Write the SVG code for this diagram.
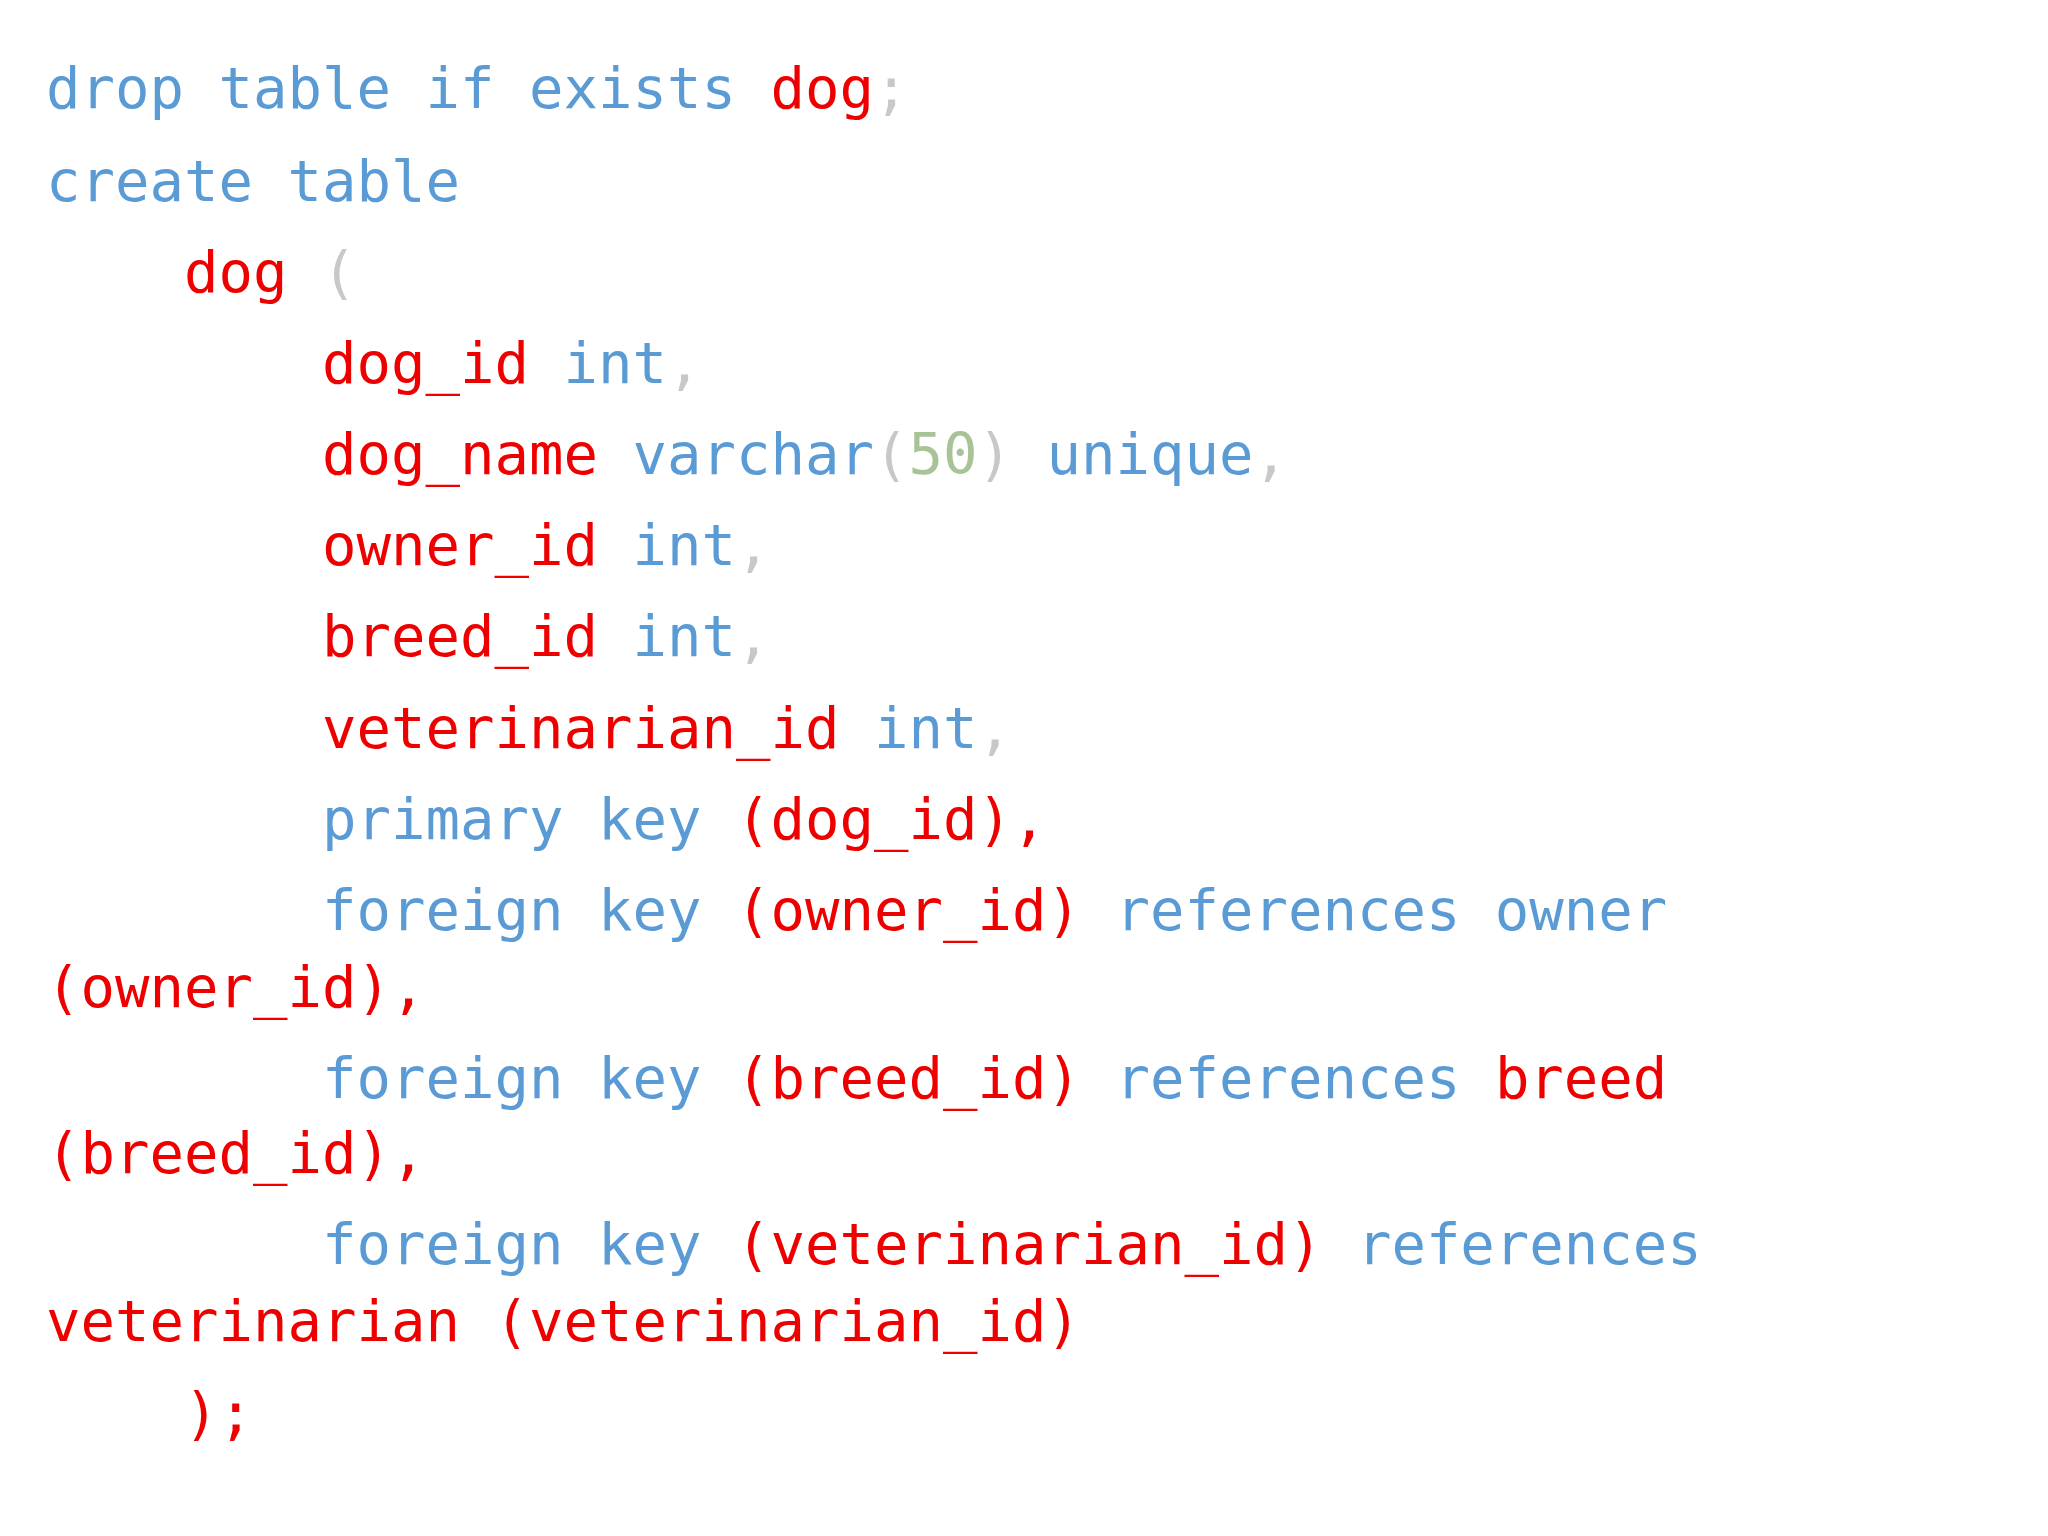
<svg xmlns="http://www.w3.org/2000/svg" width="2048" height="1536" viewBox="0 0 2048 1536">
<style>
text{font-family:"DejaVu Sans Mono","Liberation Mono",monospace;font-size:57.3px;white-space:pre}
.k{fill:#5B9BD5}.r{fill:#EE0000}.g{fill:#C8C8C8}.n{fill:#A8C496}
</style>
<rect width="2048" height="1536" fill="#fff"/>
<g id="code" xml:space="preserve" transform="translate(0,-4)">
<text x="46" y="112"><tspan class="k">drop table if exists </tspan><tspan class="r">dog</tspan><tspan class="g">;</tspan></text>
<text x="46" y="205"><tspan class="k">create table</tspan></text>
<text x="184" y="296"><tspan class="r">dog</tspan><tspan class="g"> (</tspan></text>
<text x="322" y="387"><tspan class="r">dog_id</tspan><tspan class="k"> int</tspan><tspan class="g">,</tspan></text>
<text x="322" y="478"><tspan class="r">dog_name</tspan><tspan class="k"> varchar</tspan><tspan class="g">(</tspan><tspan class="n">50</tspan><tspan class="g">)</tspan><tspan class="k"> unique</tspan><tspan class="g">,</tspan></text>
<text x="322" y="569"><tspan class="r">owner_id</tspan><tspan class="k"> int</tspan><tspan class="g">,</tspan></text>
<text x="322" y="660"><tspan class="r">breed_id</tspan><tspan class="k"> int</tspan><tspan class="g">,</tspan></text>
<text x="322" y="752"><tspan class="r">veterinarian_id</tspan><tspan class="k"> int</tspan><tspan class="g">,</tspan></text>
<text x="322" y="843"><tspan class="k">primary key </tspan><tspan class="r">(dog_id),</tspan></text>
<text x="322" y="934"><tspan class="k">foreign key </tspan><tspan class="r">(owner_id)</tspan><tspan class="k"> references owner</tspan></text>
<text x="46" y="1011"><tspan class="r">(owner_id),</tspan></text>
<text x="322" y="1102"><tspan class="k">foreign key </tspan><tspan class="r">(breed_id)</tspan><tspan class="k"> references </tspan><tspan class="r">breed</tspan></text>
<text x="46" y="1177"><tspan class="r">(breed_id),</tspan></text>
<text x="322" y="1268"><tspan class="k">foreign key </tspan><tspan class="r">(veterinarian_id)</tspan><tspan class="k"> references</tspan></text>
<text x="46" y="1345"><tspan class="r">veterinarian (veterinarian_id)</tspan></text>
<text x="184" y="1437"><tspan class="r">);</tspan></text>
</g>
</svg>
